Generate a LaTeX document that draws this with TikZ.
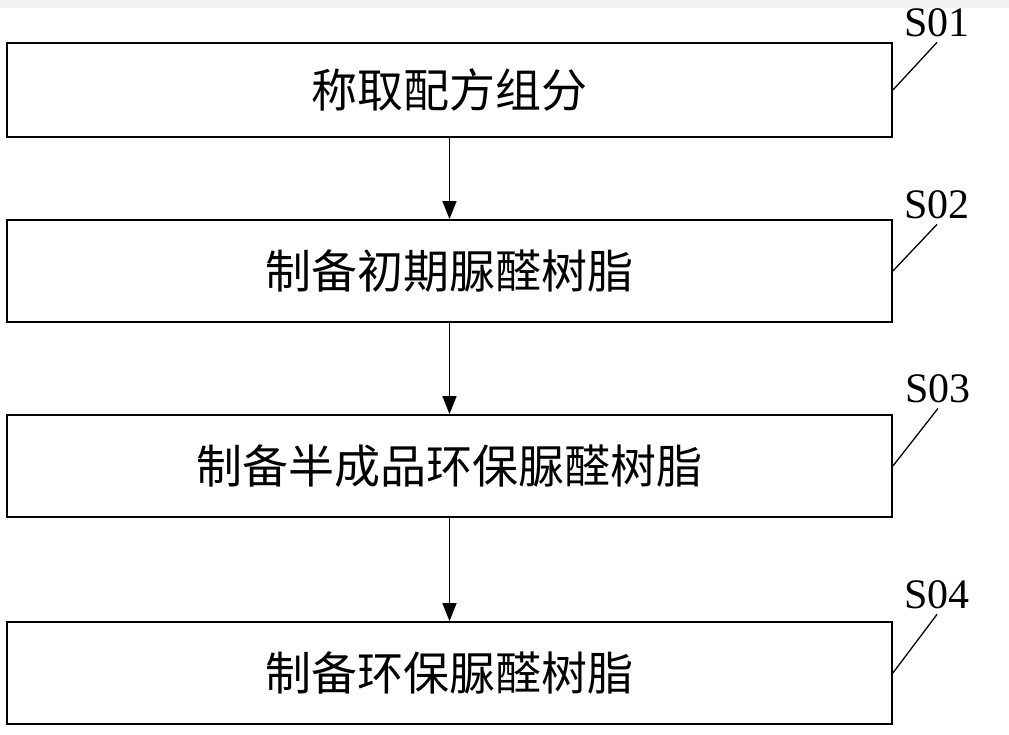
\documentclass[tikz,border=0pt]{standalone}
\usepackage{fontspec}
\setmainfont{Liberation Serif}
\newfontfamily\cjk{Noto Sans CJK SC}
\usetikzlibrary{arrows.meta,positioning}
\tikzset{stepbox/.style={draw,line width=1.8pt,minimum width=885pt,minimum height=102pt,
    inner sep=0pt,font=\cjk\fontsize{46}{50}\selectfont},
  flow/.style={-{Triangle[length=18pt,width=14pt]},line width=1.3pt},
  steplabel/.style={font=\fontsize{42}{44}\selectfont,inner xsep=0pt,inner ysep=5pt},
  leader/.style={line width=1.3pt}}

\begin{document}
\begin{tikzpicture}[x=1pt,y=-1pt]
\useasboundingbox (0,0) rectangle (1009,734);
\fill[black!5] (0,0) rectangle (1009,8);
% steps
\node[stepbox,minimum height=94pt] (s1) at (449.5,90) {称取配方组分};
\node[stepbox] (s2) at (449.5,271) {制备初期脲醛树脂};
\node[stepbox] (s3) at (449.5,466) {制备半成品环保脲醛树脂};
\node[stepbox] (s4) at (449.5,673) {制备环保脲醛树脂};
% step numbers
\node[steplabel] (l1) at (937,23) {S01};
\node[steplabel] (l2) at (937,205) {S02};
\node[steplabel] (l3) at (938,389) {S03};
\node[steplabel] (l4) at (937,595) {S04};
\draw[flow] (s1) -- (s2);
\draw[flow] (s2) -- (s3);
\draw[flow] (s3) -- (s4);
\foreach \i in {1,...,4}
  \draw[leader] (s\i.east) -- (l\i.south);
\end{tikzpicture}
\end{document}
